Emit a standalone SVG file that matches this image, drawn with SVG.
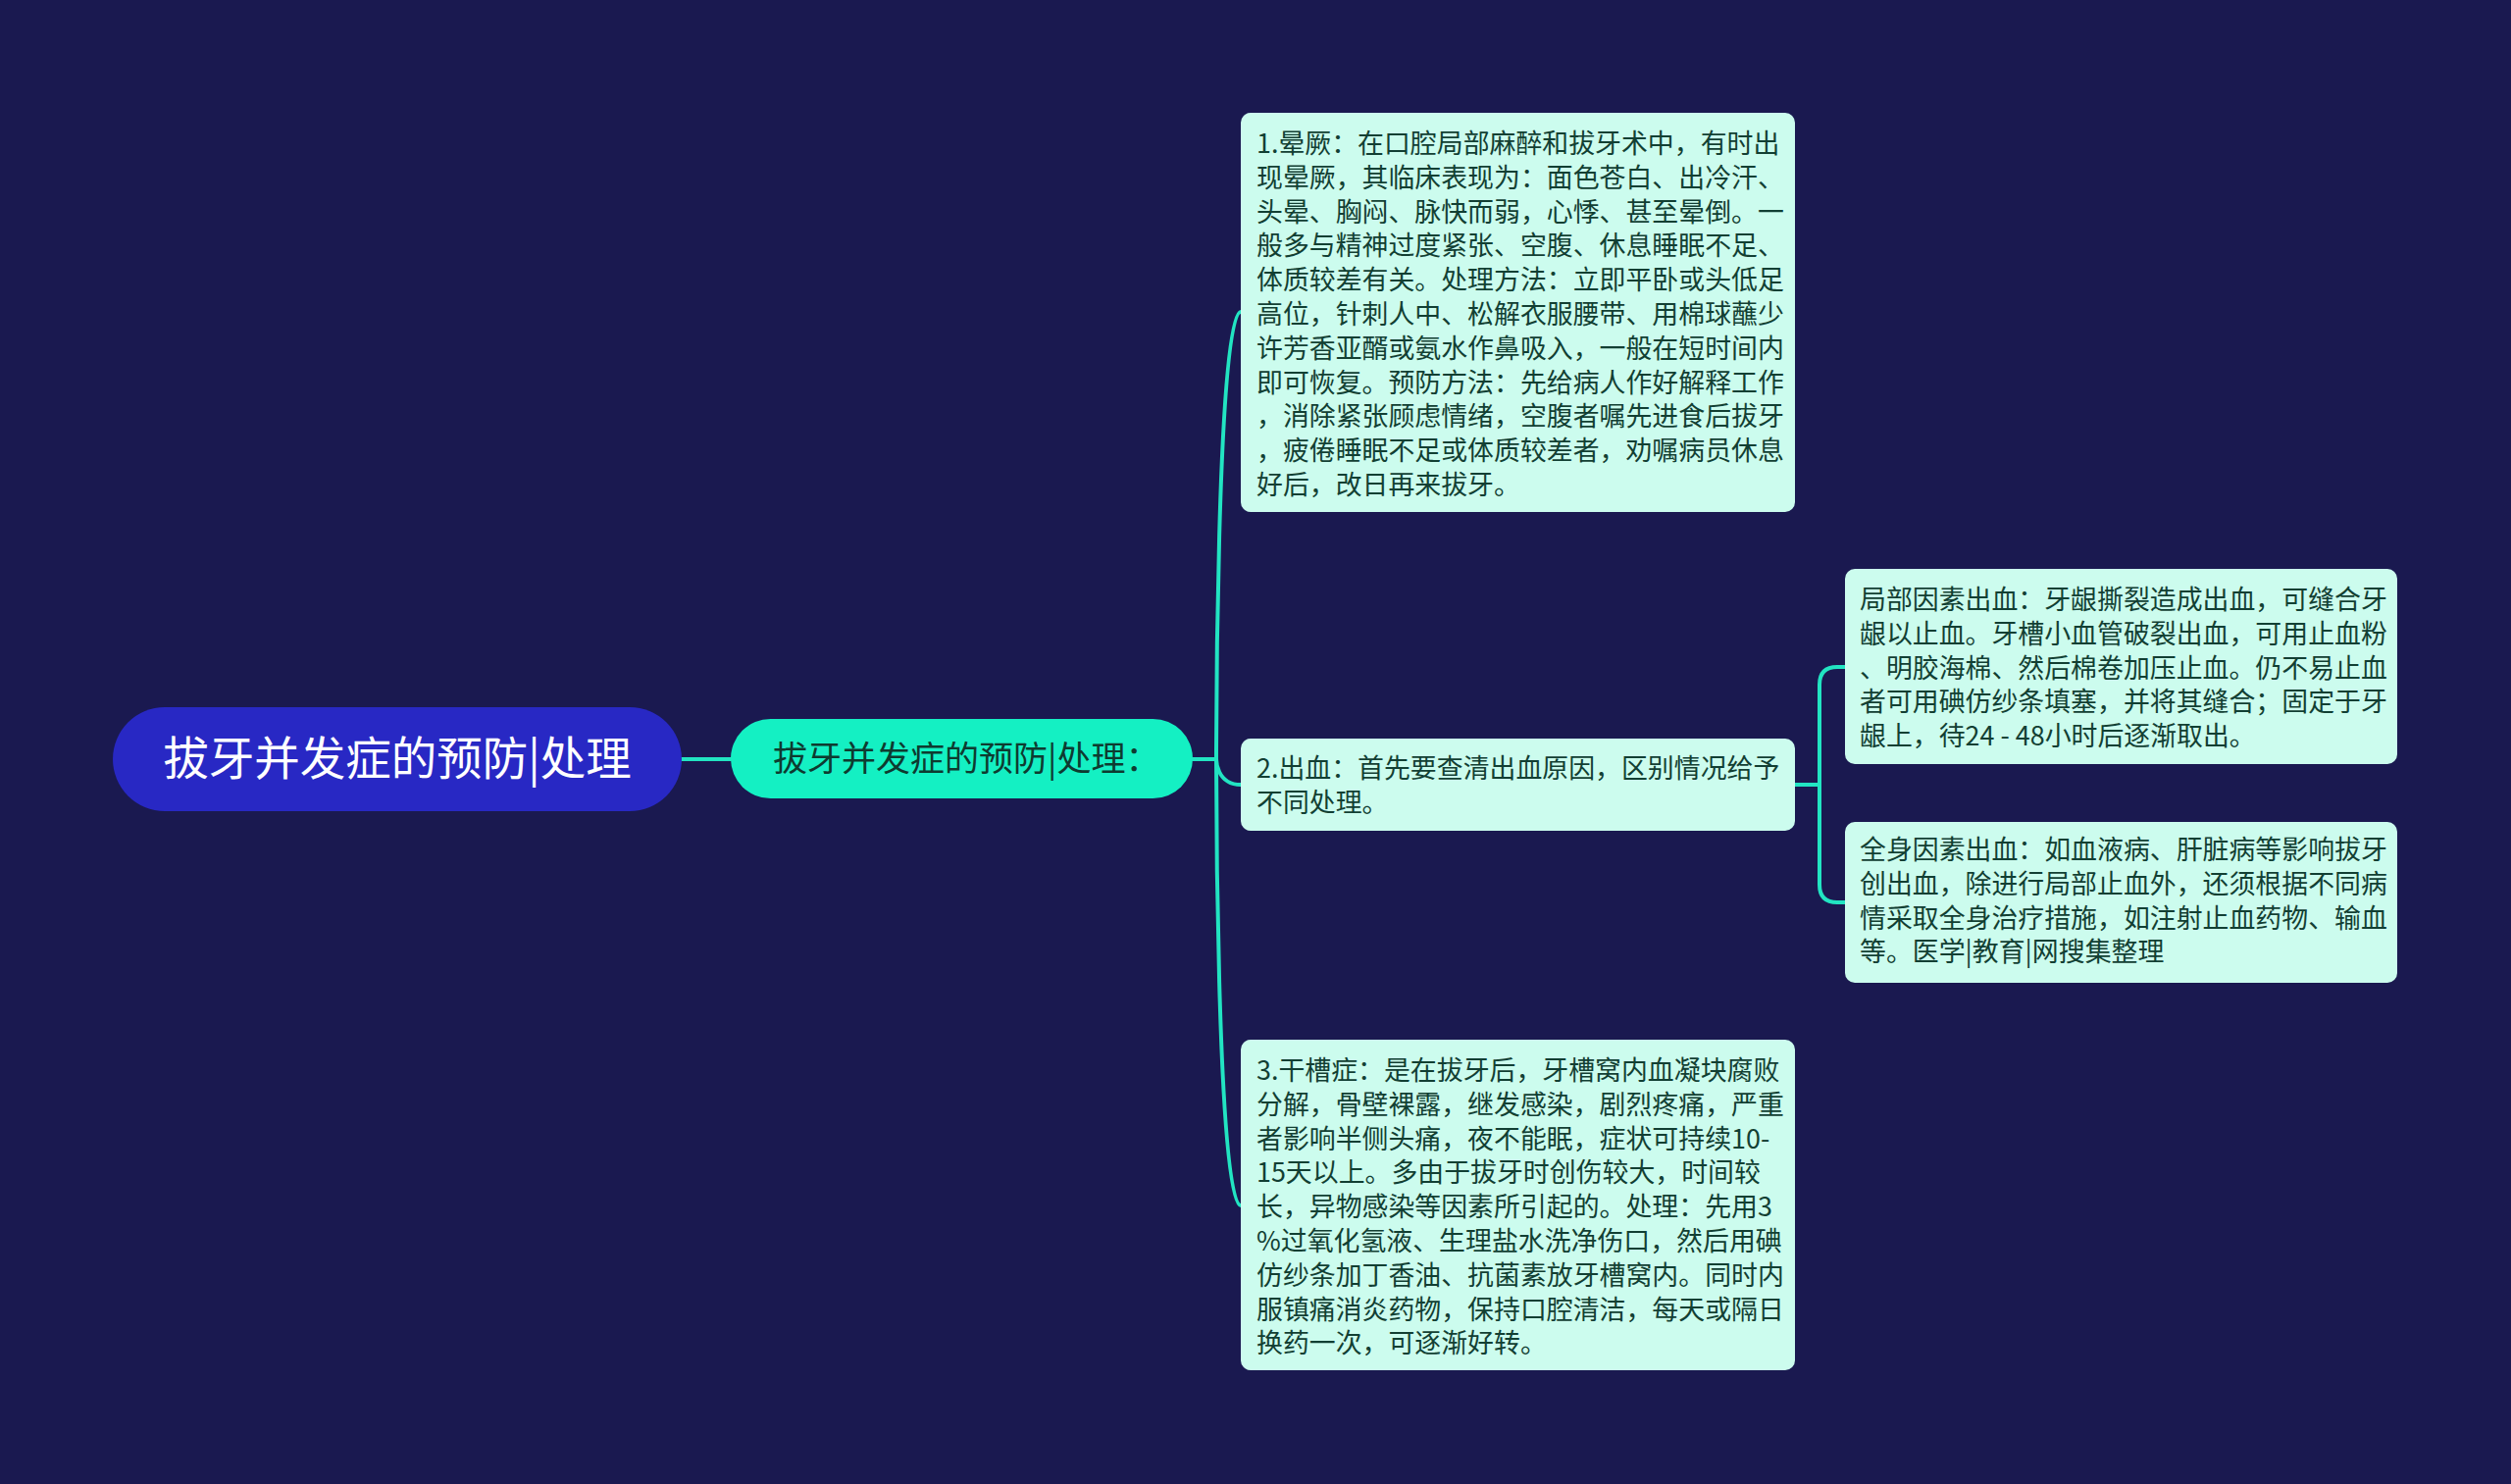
<svg xmlns="http://www.w3.org/2000/svg" width="2560" height="1513" viewBox="0 0 2560 1513">
<style>
.bg{fill:#1a1950}
.conn{fill:none;stroke:#22e4c2;stroke-width:4;stroke-linecap:round}
.root{fill:#2828c4}
.rootT{fill:#ffffff;font-family:"Noto Sans CJK SC","Noto Sans",sans-serif;font-size:46.5px}
.l1{fill:#14f0c3}
.l1T{fill:#0e3b30;font-family:"Noto Sans CJK SC","Noto Sans",sans-serif;font-size:35px}
.box{fill:#ccfcee}
.bt{fill:#123f33;font-family:"Noto Sans CJK SC","Noto Sans",sans-serif;font-size:26.9px}
</style>
<rect class="bg" x="0" y="0" width="2560" height="1513"/>
<g id="connectors">
<path class="conn" d="M695 774 H745"/>
<path class="conn" d="M1216 774 H1240"/>
<path class="conn" d="M1240 774 C1240 774 1240 318 1265 318"/>
<path class="conn" d="M1240 774 C1240 774 1240 800 1265 800"/>
<path class="conn" d="M1240 774 C1240 774 1240 1229 1265 1229"/>
<path class="conn" d="M1830 800 H1855"/>
<path class="conn" d="M1881 680 H1873 Q1855 680 1855 698 V902 Q1855 920 1873 920 H1881"/>
</g>
<g id="root">
<rect class="root" x="115" y="721" width="580" height="106" rx="53"/>
<text class="rootT" x="405" y="790" text-anchor="middle">拔牙并发症的预防|处理</text>
</g>
<g id="level1">
<rect class="l1" x="745" y="733" width="471" height="81" rx="40.5"/>
<text class="l1T" x="788" y="786">拔牙并发症的预防|处理：</text>
</g>
<g id="n1">
<rect class="box" x="1265" y="115" width="565" height="407" rx="10"/>
<text class="bt" x="1281" y="156">
<tspan x="1281" y="156">1.晕厥：在口腔局部麻醉和拔牙术中，有时出</tspan>
<tspan x="1281" y="190.8">现晕厥，其临床表现为：面色苍白、出冷汗、</tspan>
<tspan x="1281" y="225.6">头晕、胸闷、脉快而弱，心悸、甚至晕倒。一</tspan>
<tspan x="1281" y="260.4">般多与精神过度紧张、空腹、休息睡眠不足、</tspan>
<tspan x="1281" y="295.2">体质较差有关。处理方法：立即平卧或头低足</tspan>
<tspan x="1281" y="330">高位，针刺人中、松解衣服腰带、用棉球蘸少</tspan>
<tspan x="1281" y="364.8">许芳香亚醑或氨水作鼻吸入，一般在短时间内</tspan>
<tspan x="1281" y="399.6">即可恢复。预防方法：先给病人作好解释工作</tspan>
<tspan x="1281" y="434.4">，消除紧张顾虑情绪，空腹者嘱先进食后拔牙</tspan>
<tspan x="1281" y="469.2">，疲倦睡眠不足或体质较差者，劝嘱病员休息</tspan>
<tspan x="1281" y="504">好后，改日再来拔牙。</tspan>
</text>
</g>
<g id="n2">
<rect class="box" x="1265" y="753" width="565" height="94" rx="10"/>
<text class="bt" x="1281" y="793">
<tspan x="1281" y="793">2.出血：首先要查清出血原因，区别情况给予</tspan>
<tspan x="1281" y="827.8">不同处理。</tspan>
</text>
</g>
<g id="n3">
<rect class="box" x="1265" y="1060" width="565" height="337" rx="10"/>
<text class="bt" x="1281" y="1101">
<tspan x="1281" y="1101">3.干槽症：是在拔牙后，牙槽窝内血凝块腐败</tspan>
<tspan x="1281" y="1135.8">分解，骨壁裸露，继发感染，剧烈疼痛，严重</tspan>
<tspan x="1281" y="1170.6">者影响半侧头痛，夜不能眠，症状可持续10-</tspan>
<tspan x="1281" y="1205.4">15天以上。多由于拔牙时创伤较大，时间较</tspan>
<tspan x="1281" y="1240.2">长，异物感染等因素所引起的。处理：先用3</tspan>
<tspan x="1281" y="1275">%过氧化氢液、生理盐水洗净伤口，然后用碘</tspan>
<tspan x="1281" y="1309.8">仿纱条加丁香油、抗菌素放牙槽窝内。同时内</tspan>
<tspan x="1281" y="1344.6">服镇痛消炎药物，保持口腔清洁，每天或隔日</tspan>
<tspan x="1281" y="1379.4">换药一次，可逐渐好转。</tspan>
</text>
</g>
<g id="n2a">
<rect class="box" x="1881" y="580" width="563" height="199" rx="10"/>
<text class="bt" x="1896" y="621">
<tspan x="1896" y="621">局部因素出血：牙龈撕裂造成出血，可缝合牙</tspan>
<tspan x="1896" y="655.8">龈以止血。牙槽小血管破裂出血，可用止血粉</tspan>
<tspan x="1896" y="690.6">、明胶海棉、然后棉卷加压止血。仍不易止血</tspan>
<tspan x="1896" y="725.4">者可用碘仿纱条填塞，并将其缝合；固定于牙</tspan>
<tspan x="1896" y="760.2">龈上，待24 - 48小时后逐渐取出。</tspan>
</text>
</g>
<g id="n2b">
<rect class="box" x="1881" y="838" width="563" height="164" rx="10"/>
<text class="bt" x="1896" y="876">
<tspan x="1896" y="876">全身因素出血：如血液病、肝脏病等影响拔牙</tspan>
<tspan x="1896" y="910.8">创出血，除进行局部止血外，还须根据不同病</tspan>
<tspan x="1896" y="945.6">情采取全身治疗措施，如注射止血药物、输血</tspan>
<tspan x="1896" y="980.4">等。医学|教育|网搜集整理</tspan>
</text>
</g>
</svg>
